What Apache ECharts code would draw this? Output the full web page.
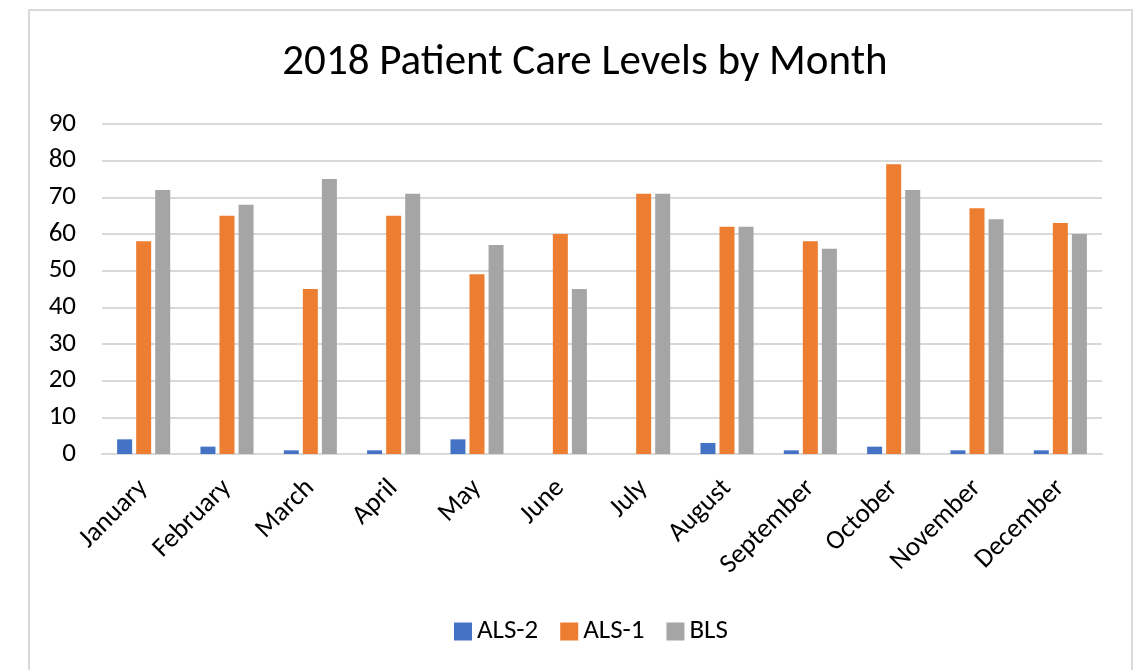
<!DOCTYPE html>
<html>
<head>
<meta charset="utf-8">
<script src="https://cdn.jsdelivr.net/npm/echarts@6/dist/echarts.min.js"></script>
<style>
  html, body { margin: 0; padding: 0; background: #fff; }
  #frame { position: absolute; left: 28px; top: 9px; width: 1105px; height: 670px; border: 2px solid #d9d9d9; box-sizing: border-box; }
  #chart { position: absolute; left: 0; top: 0; width: 1140px; height: 670px; }
</style>
</head>
<body>
<div id="frame"></div>
<div id="chart"></div>
<script>
// 月份
const months = ["January", "February", "March", "April", "May", "June",
  "July", "August", "September", "October", "November", "December"];
// 各级别数据
const als2 = [4, 2, 1, 1, 4, 0, 0, 3, 1, 2, 1, 1];
const als1 = [58, 65, 45, 65, 49, 60, 71, 62, 58, 79, 67, 63];
const bls = [72, 68, 75, 71, 57, 45, 71, 62, 56, 72, 64, 60];
const yTicks = [0, 10, 20, 30, 40, 50, 60, 70, 80, 90];

const font = 'Carlito, "Open Sans", "Liberation Sans", sans-serif';
const chart = echarts.init(document.getElementById("chart"));

function barSeries(name, data, color) {
  return {
    name: name,
    type: "bar",
    data: data,
    barWidth: 15,
    barGap: "27%",
    itemStyle: { color: color },
  };
}

chart.setOption({
  animation: false,
  title: {
    text: "2018 Patient Care Levels by Month",
    left: 580,
    textAlign: "center",
    top: 37,
    textStyle: { fontFamily: font, fontSize: 43, fontWeight: "normal", color: "#000" },
  },
  legend: {
    top: 613,
    left: 449,
    itemWidth: 18,
    itemHeight: 18,
    itemGap: 22,
    icon: "rect",
    textStyle: { fontFamily: font, fontSize: 27, color: "#000" },
  },
  grid: { left: 102, right: 38, top: 124, bottom: 216 },
  xAxis: {
    type: "category",
    data: months,
    axisLine: { lineStyle: { color: "#d9d9d9", width: 2 } },
    axisTick: { show: false },
    axisLabel: {
      rotate: 45,
      interval: 0,
      margin: 30,
      fontFamily: font,
      fontSize: 27,
      color: "#000",
    },
  },
  yAxis: {
    type: "value",
    min: yTicks[0],
    max: yTicks[yTicks.length - 1],
    interval: 10,
    axisLine: { show: false },
    axisTick: { show: false },
    splitLine: { lineStyle: { color: "#d9d9d9", width: 2 } },
    axisLabel: { margin: 26, fontFamily: font, fontSize: 27, color: "#000" },
  },
  series: [
    barSeries("ALS-2", als2, "#4472c4"),
    barSeries("ALS-1", als1, "#ed7d31"),
    barSeries("BLS", bls, "#a5a5a5"),
  ],
});
</script>
</body>
</html>
